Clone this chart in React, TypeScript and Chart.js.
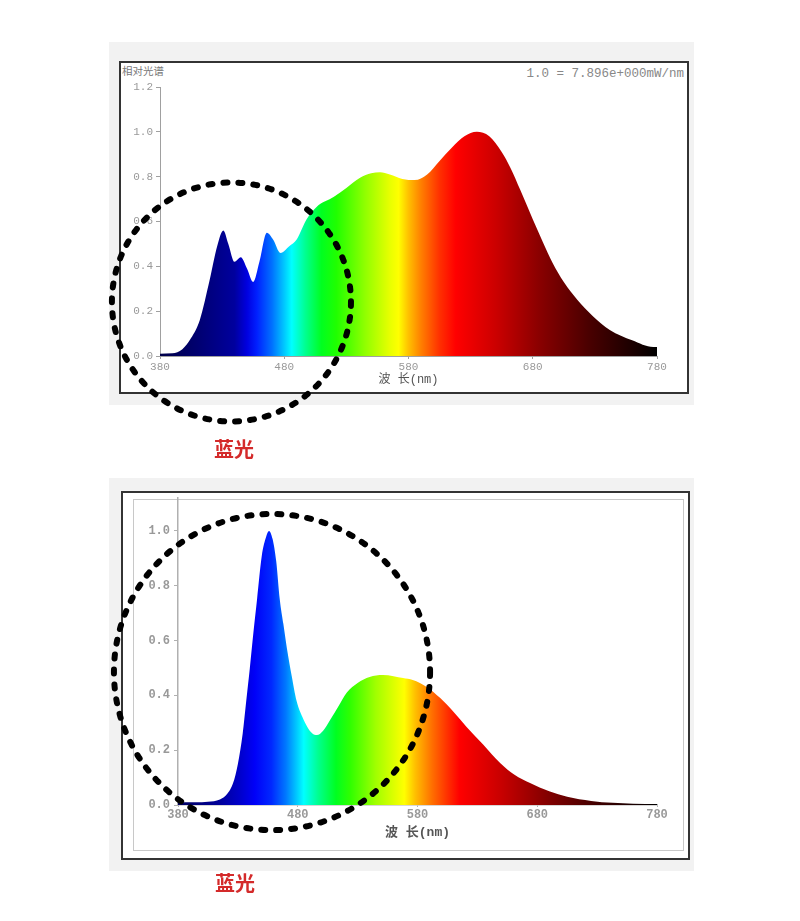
import React, { useEffect, useRef } from 'react';
import { Chart, registerables } from 'chart.js';

Chart.register(...registerables);

// ---- data ----
const xTicks = [380, 480, 580, 680, 780];
const topYTicks = [0, 0.2, 0.4, 0.6, 0.8, 1.0, 1.2];
const bottomYTicks = [0, 0.2, 0.4, 0.6, 0.8, 1.0];

const topWavelengths = [380, 390, 398, 405, 412, 420, 426, 431, 435, 440, 445, 450, 455, 460, 466, 471, 477, 484, 490, 498, 506, 520, 530, 541, 550, 557, 565, 575, 585, 595, 605, 615, 625, 635, 645, 655, 662, 670, 680, 688, 696, 705, 716, 728, 742, 760, 777, 780];
const topValues = [0.01, 0.012, 0.03, 0.08, 0.16, 0.34, 0.49, 0.56, 0.5, 0.42, 0.44, 0.39, 0.33, 0.42, 0.55, 0.52, 0.46, 0.49, 0.52, 0.61, 0.665, 0.71, 0.75, 0.795, 0.815, 0.82, 0.81, 0.79, 0.785, 0.81, 0.87, 0.93, 0.98, 1.0, 0.98, 0.91, 0.84, 0.74, 0.61, 0.51, 0.415, 0.33, 0.25, 0.18, 0.116, 0.07, 0.04, 0.04];

const bottomWavelengths = [380, 395, 405, 415, 421, 426, 430, 434, 437, 440, 443, 446, 450, 453, 456, 459, 462, 465, 468, 471, 475, 479, 484, 488, 492, 496, 501, 507, 514, 521, 530, 540, 551, 560, 568, 576, 588, 599, 610, 621, 635, 649, 661, 674, 690, 705, 725, 743, 760, 780];
const bottomValues = [0.01, 0.01, 0.012, 0.02, 0.04, 0.08, 0.15, 0.26, 0.38, 0.5, 0.63, 0.75, 0.91, 0.97, 1.0, 0.97, 0.89, 0.75, 0.66, 0.57, 0.47, 0.38, 0.32, 0.285, 0.262, 0.255, 0.27, 0.31, 0.36, 0.41, 0.445, 0.467, 0.474, 0.47, 0.463, 0.456, 0.43, 0.39, 0.34, 0.285, 0.22, 0.153, 0.11, 0.08, 0.05, 0.03, 0.015, 0.008, 0.005, 0.004];

// spectral colour stops (wavelength -> colour)
const topStops: [number, string][] = [
  [380, '#000048'],
  [410, '#000070'],
  [440, '#00009e'],
  [450, '#0000e0'],
  [458, '#0020ff'],
  [470, '#0070ff'],
  [480, '#00c8ff'],
  [486, '#00ffff'],
  [497, '#00ff90'],
  [510, '#00ff20'],
  [522, '#20ff00'],
  [545, '#90ff00'],
  [565, '#e8ff00'],
  [572, '#ffff00'],
  [580, '#ffc000'],
  [590, '#ff8000'],
  [605, '#ff3000'],
  [618, '#ff0000'],
  [650, '#cc0000'],
  [685, '#8a0000'],
  [725, '#4a0000'],
  [780, '#000000'],
];
const bottomStops: [number, string][] = [
  [380, '#000060'],
  [415, '#00009a'],
  [432, '#0000cc'],
  [444, '#0000f8'],
  [458, '#0028ff'],
  [470, '#0078ff'],
  [479, '#00c8ff'],
  [485, '#00ffff'],
  [497, '#00ff90'],
  [512, '#00ff20'],
  [524, '#30ff00'],
  [545, '#a0ff00'],
  [563, '#e8ff00'],
  [569, '#ffff00'],
  [578, '#ffc000'],
  [592, '#ff7000'],
  [605, '#ff3000'],
  [615, '#ff0000'],
  [650, '#c80000'],
  [690, '#800000'],
  [730, '#400000'],
  [780, '#000000'],
];

const dashedCirclePlugin = {
  id: 'dashCircle',
  afterDraw(chart: any, _args: any, opts: any) {
    const { ctx, scales } = chart;
    const xs = scales.x;
    const ys = scales.y;
    const cx = xs.getPixelForValue(opts.nm);
    const cy = ys.getPixelForValue(opts.value);
    const r = xs.getPixelForValue(opts.nm + opts.radiusNm) - cx;
    ctx.save();
    ctx.beginPath();
    ctx.arc(cx, cy, r, 0, Math.PI * 2);
    ctx.setLineDash([4, 11]);
    ctx.lineWidth = 6;
    ctx.lineCap = 'round';
    ctx.strokeStyle = '#000';
    ctx.stroke();
    ctx.restore();
  },
};

type ChartProps = {
  left: number;
  top: number;
  width: number;
  height: number;
  wavelengths: number[];
  values: number[];
  stops: [number, string][];
  yMax: number;
  yTicks: number[];
  padding: { left: number; right: number; top: number; bottom: number };
  yAxisWidth: number;
  xAxisHeight: number;
  tickFont: any;
  tickColor: string;
  titleFont: any;
  axisColor: string;
  axisWidth: number;
  xTickLen: number;
  xTickPad: number;
  yTickLen: number;
  yTickPad: number;
  circle: { nm: number; value: number; radiusNm: number };
};

function SpectrumChart(p: ChartProps) {
  const ref = useRef<HTMLCanvasElement>(null);
  useEffect(() => {
    const chart = new Chart(ref.current as HTMLCanvasElement, {
      type: 'line',
      data: {
        datasets: [
          {
            data: p.wavelengths.map((w, i) => ({ x: w, y: p.values[i] })),
            fill: 'origin',
            borderWidth: 0,
            borderColor: 'rgba(0,0,0,0)',
            pointRadius: 0,
            cubicInterpolationMode: 'monotone',
            backgroundColor: (c: any) => {
              const ch = c.chart;
              if (!ch.chartArea || !ch.scales.x) return 'rgba(0,0,0,0)';
              const xs = ch.scales.x;
              const x0 = xs.getPixelForValue(380);
              const x1 = xs.getPixelForValue(780);
              const g = ch.ctx.createLinearGradient(x0, 0, x1, 0);
              p.stops.forEach(([nm, col]) => g.addColorStop((nm - 380) / 400, col));
              return g;
            },
          } as any,
        ],
      },
      options: {
        animation: false,
        responsive: true,
        maintainAspectRatio: false,
        layout: { padding: p.padding },
        plugins: {
          legend: { display: false },
          tooltip: { enabled: false },
          dashCircle: p.circle,
        } as any,
        scales: {
          x: {
            type: 'linear',
            min: 380,
            max: 780,
            afterBuildTicks: (s: any) => {
              s.ticks = xTicks.map((v) => ({ value: v }));
            },
            afterFit: (s: any) => {
              s.height = p.xAxisHeight;
            },
            grid: {
              display: true,
              drawOnChartArea: false,
              drawTicks: true,
              tickLength: p.xTickLen,
              color: p.axisColor,
            },
            border: { display: true, color: p.axisColor, width: p.axisWidth },
            ticks: {
              padding: p.xTickPad,
              font: p.tickFont,
              color: p.tickColor,
              maxRotation: 0,
              autoSkip: false,
              callback: (v: any) => String(v),
            },
            title: {
              display: true,
              text: '波 长(nm)',
              font: p.titleFont,
              color: '#555',
              padding: 0,
            },
          },
          y: {
            type: 'linear',
            min: 0,
            max: p.yMax,
            afterBuildTicks: (s: any) => {
              s.ticks = p.yTicks.map((v) => ({ value: v }));
            },
            afterFit: (s: any) => {
              s.width = p.yAxisWidth;
            },
            grid: {
              display: true,
              drawOnChartArea: false,
              drawTicks: true,
              tickLength: p.yTickLen,
              color: p.axisColor,
            },
            border: { display: true, color: p.axisColor, width: p.axisWidth },
            ticks: {
              padding: p.yTickPad,
              font: p.tickFont,
              color: p.tickColor,
              callback: (v: any) => Number(v).toFixed(1),
            },
          },
        },
      },
      plugins: [dashedCirclePlugin],
    } as any);
    return () => chart.destroy();
  }, []);
  return (
    <div style={{ position: 'absolute', left: p.left, top: p.top, width: p.width, height: p.height }}>
      <canvas ref={ref} />
    </div>
  );
}

const labelStyle: React.CSSProperties = {
  position: 'absolute',
  width: 60,
  textAlign: 'center',
  fontFamily: '"Noto Sans CJK SC", sans-serif',
  fontWeight: 700,
  fontSize: 20,
  lineHeight: '22px',
  color: '#d42a2a',
};

export default function App() {
  return (
    <div style={{ position: 'absolute', left: 0, top: 0, width: 800, height: 921, background: '#fff', overflow: 'hidden' }}>
      {/* top panel */}
      <div style={{ position: 'absolute', left: 109, top: 42, width: 585, height: 363, background: '#f2f2f2' }} />
      <div style={{ position: 'absolute', left: 119, top: 61, width: 570, height: 333, border: '2px solid #333', background: '#fff', boxSizing: 'border-box' }} />
      <div style={{ position: 'absolute', left: 122, top: 64, fontFamily: '"Noto Sans CJK SC", sans-serif', fontSize: 10.5, lineHeight: '14px', color: '#777' }}>相对光谱</div>
      <div style={{ position: 'absolute', right: 800 - 684, top: 67, fontFamily: '"Liberation Mono", monospace', fontSize: 12.5, lineHeight: '14px', color: '#888', whiteSpace: 'nowrap' }}>1.0 = 7.896e+000mW/nm</div>

      {/* bottom panel */}
      <div style={{ position: 'absolute', left: 109, top: 478, width: 585, height: 393, background: '#f2f2f2' }} />
      <div style={{ position: 'absolute', left: 121, top: 491, width: 569, height: 369, border: '2px solid #333', background: '#fff', boxSizing: 'border-box' }} />
      <div style={{ position: 'absolute', left: 133, top: 499, width: 551, height: 352, border: '1.5px solid #c8c8c8', boxSizing: 'border-box' }} />

      <SpectrumChart
        left={0}
        top={0}
        width={800}
        height={470}
        wavelengths={topWavelengths}
        values={topValues}
        stops={topStops}
        yMax={1.2}
        yTicks={topYTicks}
        padding={{ left: 120, right: 143, top: 87, bottom: 83 }}
        yAxisWidth={40}
        xAxisHeight={31}
        tickFont={{ family: '"Liberation Mono", monospace', size: 11 }}
        tickColor="#999"
        titleFont={{ family: '"Liberation Mono", "Noto Sans CJK SC", monospace', size: 12 }}
        axisColor="#a0a0a0"
        axisWidth={1}
        xTickLen={3}
        xTickPad={1}
        yTickLen={4}
        yTickPad={3}
        circle={{ nm: 437.5, value: 0.241, radiusNm: 96.2 }}
      />
      <SpectrumChart
        left={-12}
        top={470}
        width={800}
        height={451}
        wavelengths={bottomWavelengths}
        values={bottomValues}
        stops={bottomStops}
        yMax={1.12}
        yTicks={bottomYTicks}
        padding={{ left: 150, right: 131, top: 28, bottom: 80 }}
        yAxisWidth={40}
        xAxisHeight={36}
        tickFont={{ family: '"Liberation Mono", monospace', size: 12, weight: 'bold' }}
        tickColor="#999"
        titleFont={{ family: '"Liberation Mono", "Noto Sans CJK SC", monospace', size: 13, weight: 'bold' }}
        axisColor="#b0b0b0"
        axisWidth={1.5}
        xTickLen={2}
        xTickPad={1}
        yTickLen={4}
        yTickPad={4}
        circle={{ nm: 458.5, value: 0.485, radiusNm: 132 }}
      />

      <div style={{ ...labelStyle, left: 204, top: 438 }}>蓝光</div>
      <div style={{ ...labelStyle, left: 205, top: 872 }}>蓝光</div>
    </div>
  );
}
